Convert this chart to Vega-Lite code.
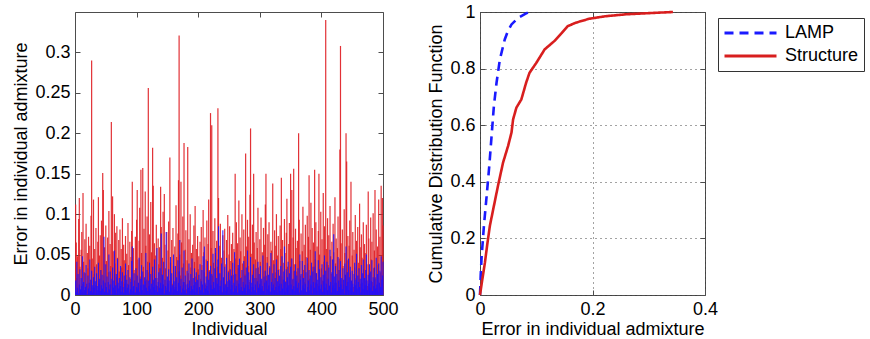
{
"$schema": "https://vega.github.io/schema/vega-lite/v6.json",
"padding": {"left": 12, "top": 2, "right": 0, "bottom": 0},
"config": {
 "font": "Liberation Sans",
 "view": {"stroke": "#4d4d4d", "strokeWidth": 1},
 "axis": {"domain": false, "grid": false, "tickColor": "#4d4d4d", "tickSize": -5, "labelFontSize": 18, "labelColor": "#000", "titleFontSize": 18, "titleFontWeight": "normal", "titleColor": "#000", "labelPadding": 10, "labelFlush": false, "labelOverlap": false},
 "axisX": {"titlePadding": 2},
 "axisY": {"titlePadding": 4},
 "legend": {"labelFontSize": 18, "labelColor": "#000", "strokeColor": "#333", "fillColor": "#fff", "padding": 5, "symbolSize": 2704, "symbolStrokeWidth": 3, "rowPadding": 3, "clipHeight": 20, "labelOffset": 7}
},
"datasets": {
"err": [
{"i":1,"s":0.112,"l":0.018},{"i":2,"s":0.065,"l":0.004},{"i":3,"s":0.021,"l":0.041},{"i":4,"s":0.048,"l":0.009},{"i":5,"s":0.008,"l":0.026},{"i":6,"s":0.094,"l":0.002},{"i":7,"s":0.12,"l":0.013},{"i":8,"s":0.035,"l":0.032},{"i":9,"s":0.003,"l":0.007},{"i":10,"s":0.056,"l":0.021},
{"i":11,"s":0.078,"l":0.011},{"i":12,"s":0.014,"l":0.048},{"i":13,"s":0.126,"l":0.003},{"i":14,"s":0.041,"l":0.016},{"i":15,"s":0.006,"l":0.028},{"i":16,"s":0.069,"l":0.006},{"i":17,"s":0.027,"l":0.01},{"i":18,"s":0.088,"l":0.037},{"i":19,"s":0.011,"l":0.014},{"i":20,"s":0.052,"l":0.001},
{"i":21,"s":0.033,"l":0.024},{"i":22,"s":0.072,"l":0.008},{"i":23,"s":0.004,"l":0.015},{"i":24,"s":0.061,"l":0.044},{"i":25,"s":0.019,"l":0.005},{"i":26,"s":0.098,"l":0.019},{"i":27,"s":0.29,"l":0.03},{"i":28,"s":0.045,"l":0.012},{"i":29,"s":0.009,"l":0.003},{"i":30,"s":0.118,"l":0.022},
{"i":31,"s":0.026,"l":0.009},{"i":32,"s":0.057,"l":0.035},{"i":33,"s":0.012,"l":0.017},{"i":34,"s":0.083,"l":0.002},{"i":35,"s":0.038,"l":0.027},{"i":36,"s":0.002,"l":0.011},{"i":37,"s":0.066,"l":0.006},{"i":38,"s":0.121,"l":0.04},{"i":39,"s":0.017,"l":0.014},{"i":40,"s":0.049,"l":0.02},
{"i":41,"s":0.074,"l":0.005},{"i":42,"s":0.031,"l":0.031},{"i":43,"s":0.092,"l":0.012},{"i":44,"s":0.007,"l":0.025},{"i":45,"s":0.151,"l":0.008},{"i":46,"s":0.13,"l":0.018},{"i":47,"s":0.024,"l":0.072},{"i":48,"s":0.059,"l":0.004},{"i":49,"s":0.015,"l":0.015},{"i":50,"s":0.086,"l":0.038},
{"i":51,"s":0.042,"l":0.01},{"i":52,"s":0.005,"l":0.023},{"i":53,"s":0.071,"l":0.003},{"i":54,"s":0.028,"l":0.016},{"i":55,"s":0.104,"l":0.05},{"i":56,"s":0.013,"l":0.007},{"i":57,"s":0.063,"l":0.029},{"i":58,"s":0.036,"l":0.013},{"i":59,"s":0.214,"l":0.001},{"i":60,"s":0.018,"l":0.02},
{"i":61,"s":0.122,"l":0.034},{"i":62,"s":0.054,"l":0.009},{"i":63,"s":0.009,"l":0.018},{"i":64,"s":0.1,"l":0.055},{"i":65,"s":0.039,"l":0.006},{"i":66,"s":0.077,"l":0.012},{"i":67,"s":0.022,"l":0.026},{"i":68,"s":0.085,"l":0.002},{"i":69,"s":0.046,"l":0.045},{"i":70,"s":0.001,"l":0.015},
{"i":71,"s":0.068,"l":0.008},{"i":72,"s":0.029,"l":0.021},{"i":73,"s":0.081,"l":0.011},{"i":74,"s":0.011,"l":0.036},{"i":75,"s":0.057,"l":0.004},{"i":76,"s":0.034,"l":0.017},{"i":77,"s":0.095,"l":0.028},{"i":78,"s":0.016,"l":0.01},{"i":79,"s":0.062,"l":0.003},{"i":80,"s":0.043,"l":0.024},
{"i":81,"s":0.007,"l":0.014},{"i":82,"s":0.073,"l":0.039},{"i":83,"s":0.025,"l":0.006},{"i":84,"s":0.051,"l":0.019},{"i":85,"s":0.014,"l":0.009},{"i":86,"s":0.089,"l":0.031},{"i":87,"s":0.037,"l":0.013},{"i":88,"s":0.004,"l":0.002},{"i":89,"s":0.066,"l":0.022},{"i":90,"s":0.02,"l":0.007},
{"i":91,"s":0.047,"l":0.016},{"i":92,"s":0.079,"l":0.042},{"i":93,"s":0.14,"l":0.06},{"i":94,"s":0.01,"l":0.005},{"i":95,"s":0.058,"l":0.011},{"i":96,"s":0.031,"l":0.027},{"i":97,"s":0.003,"l":0.018},{"i":98,"s":0.072,"l":0.003},{"i":99,"s":0.026,"l":0.033},{"i":100,"s":0.093,"l":0.01},
{"i":101,"s":0.13,"l":0.024},{"i":102,"s":0.044,"l":0.008},{"i":103,"s":0.015,"l":0.015},{"i":104,"s":0.067,"l":0.046},{"i":105,"s":0.108,"l":0.004},{"i":106,"s":0.023,"l":0.02},{"i":107,"s":0.155,"l":0.012},{"i":108,"s":0.052,"l":0.037},{"i":109,"s":0.006,"l":0.006},{"i":110,"s":0.157,"l":0.029},
{"i":111,"s":0.035,"l":0.013},{"i":112,"s":0.082,"l":0.002},{"i":113,"s":0.012,"l":0.022},{"i":114,"s":0.128,"l":0.017},{"i":115,"s":0.061,"l":0.052},{"i":116,"s":0.019,"l":0.009},{"i":117,"s":0.097,"l":0.031},{"i":118,"s":0.041,"l":0.005},{"i":119,"s":0.256,"l":0.018},{"i":120,"s":0.028,"l":0.011},
{"i":121,"s":0.075,"l":0.04},{"i":122,"s":0.008,"l":0.007},{"i":123,"s":0.115,"l":0.026},{"i":124,"s":0.053,"l":0.014},{"i":125,"s":0.03,"l":0.003},{"i":126,"s":0.182,"l":0.035},{"i":127,"s":0.135,"l":0.019},{"i":128,"s":0.017,"l":0.01},{"i":129,"s":0.064,"l":0.044},{"i":130,"s":0.002,"l":0.006},
{"i":131,"s":0.049,"l":0.021},{"i":132,"s":0.087,"l":0.012},{"i":133,"s":0.021,"l":0.058},{"i":134,"s":0.011,"l":0.004},{"i":135,"s":0.07,"l":0.016},{"i":136,"s":0.038,"l":0.028},{"i":137,"s":0.059,"l":0.009},{"i":138,"s":0.005,"l":0.033},{"i":139,"s":0.134,"l":0.015},{"i":140,"s":0.084,"l":0.076},
{"i":141,"s":0.026,"l":0.008},{"i":142,"s":0.046,"l":0.025},{"i":143,"s":0.103,"l":0.013},{"i":144,"s":0.013,"l":0.041},{"i":145,"s":0.125,"l":0.002},{"i":146,"s":0.062,"l":0.019},{"i":147,"s":0.033,"l":0.011},{"i":148,"s":0.009,"l":0.078},{"i":149,"s":0.078,"l":0.006},{"i":150,"s":0.018,"l":0.023},
{"i":151,"s":0.055,"l":0.014},{"i":152,"s":0.091,"l":0.032},{"i":153,"s":0.004,"l":0.004},{"i":154,"s":0.17,"l":0.018},{"i":155,"s":0.04,"l":0.047},{"i":156,"s":0.022,"l":0.009},{"i":157,"s":0.068,"l":0.027},{"i":158,"s":0.014,"l":0.012},{"i":159,"s":0.083,"l":0.003},{"i":160,"s":0.036,"l":0.05},
{"i":161,"s":0.01,"l":0.017},{"i":162,"s":0.06,"l":0.007},{"i":163,"s":0.029,"l":0.036},{"i":164,"s":0.111,"l":0.01},{"i":165,"s":0.047,"l":0.022},{"i":166,"s":0.003,"l":0.005},{"i":167,"s":0.076,"l":0.043},{"i":168,"s":0.142,"l":0.015},{"i":169,"s":0.321,"l":0.029},{"i":170,"s":0.05,"l":0.068},
{"i":171,"s":0.024,"l":0.011},{"i":172,"s":0.14,"l":0.02},{"i":173,"s":0.065,"l":0.003},{"i":174,"s":0.012,"l":0.034},{"i":175,"s":0.097,"l":0.008},{"i":176,"s":0.039,"l":0.016},{"i":177,"s":0.188,"l":0.055},{"i":178,"s":0.016,"l":0.006},{"i":179,"s":0.056,"l":0.024},{"i":180,"s":0.08,"l":0.013},
{"i":181,"s":0.007,"l":0.002},{"i":182,"s":0.043,"l":0.03},{"i":183,"s":0.183,"l":0.014},{"i":184,"s":0.027,"l":0.009},{"i":185,"s":0.069,"l":0.039},{"i":186,"s":0.011,"l":0.018},{"i":187,"s":0.1,"l":0.005},{"i":188,"s":0.034,"l":0.026},{"i":189,"s":0.052,"l":0.011},{"i":190,"s":0.019,"l":0.045},
{"i":191,"s":0.062,"l":0.007},{"i":192,"s":0.005,"l":0.021},{"i":193,"s":0.086,"l":0.012},{"i":194,"s":0.041,"l":0.033},{"i":195,"s":0.11,"l":0.004},{"i":196,"s":0.023,"l":0.016},{"i":197,"s":0.057,"l":0.028},{"i":198,"s":0.015,"l":0.009},{"i":199,"s":0.073,"l":0.019},{"i":200,"s":0.032,"l":0.001},
{"i":201,"s":0.048,"l":0.025},{"i":202,"s":0.009,"l":0.01},{"i":203,"s":0.066,"l":0.038},{"i":204,"s":0.02,"l":0.006},{"i":205,"s":0.084,"l":0.017},{"i":206,"s":0.037,"l":0.031},{"i":207,"s":0.002,"l":0.013},{"i":208,"s":0.105,"l":0.048},{"i":209,"s":0.053,"l":0.003},{"i":210,"s":0.028,"l":0.06},
{"i":211,"s":0.071,"l":0.015},{"i":212,"s":0.013,"l":0.008},{"i":213,"s":0.044,"l":0.023},{"i":214,"s":0.092,"l":0.011},{"i":215,"s":0.006,"l":0.042},{"i":216,"s":0.063,"l":0.005},{"i":217,"s":0.118,"l":0.019},{"i":218,"s":0.031,"l":0.029},{"i":219,"s":0.015,"l":0.002},{"i":220,"s":0.225,"l":0.036},
{"i":221,"s":0.058,"l":0.012},{"i":222,"s":0.21,"l":0.026},{"i":223,"s":0.024,"l":0.007},{"i":224,"s":0.079,"l":0.051},{"i":225,"s":0.04,"l":0.016},{"i":226,"s":0.008,"l":0.009},{"i":227,"s":0.095,"l":0.033},{"i":228,"s":0.052,"l":0.058},{"i":229,"s":0.018,"l":0.004},{"i":230,"s":0.067,"l":0.021},
{"i":231,"s":0.035,"l":0.014},{"i":232,"s":0.231,"l":0.044},{"i":233,"s":0.12,"l":0.085},{"i":234,"s":0.011,"l":0.006},{"i":235,"s":0.061,"l":0.027},{"i":236,"s":0.088,"l":0.011},{"i":237,"s":0.027,"l":0.018},{"i":238,"s":0.046,"l":0.039},{"i":239,"s":0.004,"l":0.003},{"i":240,"s":0.074,"l":0.08},
{"i":241,"s":0.021,"l":0.022},{"i":242,"s":0.055,"l":0.009},{"i":243,"s":0.082,"l":0.035},{"i":244,"s":0.014,"l":0.013},{"i":245,"s":0.038,"l":0.005},{"i":246,"s":0.068,"l":0.046},{"i":247,"s":0.007,"l":0.017},{"i":248,"s":0.099,"l":0.01},{"i":249,"s":0.03,"l":0.028},{"i":250,"s":0.05,"l":0.002},
{"i":251,"s":0.085,"l":0.019},{"i":252,"s":0.017,"l":0.032},{"i":253,"s":0.042,"l":0.007},{"i":254,"s":0.063,"l":0.024},{"i":255,"s":0.003,"l":0.012},{"i":256,"s":0.077,"l":0.04},{"i":257,"s":0.025,"l":0.004},{"i":258,"s":0.057,"l":0.015},{"i":259,"s":0.012,"l":0.053},{"i":260,"s":0.15,"l":0.008},
{"i":261,"s":0.045,"l":0.026},{"i":262,"s":0.09,"l":0.011},{"i":263,"s":0.019,"l":0.018},{"i":264,"s":0.064,"l":0.003},{"i":265,"s":0.033,"l":0.037},{"i":266,"s":0.117,"l":0.014},{"i":267,"s":0.008,"l":0.045},{"i":268,"s":0.071,"l":0.006},{"i":269,"s":0.054,"l":0.021},{"i":270,"s":0.022,"l":0.01},
{"i":271,"s":0.1,"l":0.031},{"i":272,"s":0.039,"l":0.005},{"i":273,"s":0.013,"l":0.016},{"i":274,"s":0.081,"l":0.042},{"i":275,"s":0.048,"l":0.009},{"i":276,"s":0.026,"l":0.024},{"i":277,"s":0.175,"l":0.013},{"i":278,"s":0.06,"l":0.034},{"i":279,"s":0.005,"l":0.002},{"i":280,"s":0.093,"l":0.055},
{"i":281,"s":0.036,"l":0.012},{"i":282,"s":0.072,"l":0.028},{"i":283,"s":0.016,"l":0.007},{"i":284,"s":0.124,"l":0.019},{"i":285,"s":0.206,"l":0.047},{"i":286,"s":0.051,"l":0.004},{"i":287,"s":0.01,"l":0.015},{"i":288,"s":0.087,"l":0.025},{"i":289,"s":0.029,"l":0.01},{"i":290,"s":0.15,"l":0.038},
{"i":291,"s":0.065,"l":0.006},{"i":292,"s":0.002,"l":0.021},{"i":293,"s":0.044,"l":0.013},{"i":294,"s":0.078,"l":0.033},{"i":295,"s":0.021,"l":0.003},{"i":296,"s":0.058,"l":0.017},{"i":297,"s":0.108,"l":0.041},{"i":298,"s":0.034,"l":0.009},{"i":299,"s":0.012,"l":0.026},{"i":300,"s":0.069,"l":0.014},
{"i":301,"s":0.041,"l":0.036},{"i":302,"s":0.096,"l":0.008},{"i":303,"s":0.018,"l":0.02},{"i":304,"s":0.053,"l":0.011},{"i":305,"s":0.007,"l":0.049},{"i":306,"s":0.083,"l":0.005},{"i":307,"s":0.03,"l":0.023},{"i":308,"s":0.062,"l":0.015},{"i":309,"s":0.112,"l":0.03},{"i":310,"s":0.15,"l":0.002},
{"i":311,"s":0.024,"l":0.018},{"i":312,"s":0.047,"l":0.04},{"i":313,"s":0.075,"l":0.007},{"i":314,"s":0.011,"l":0.025},{"i":315,"s":0.09,"l":0.012},{"i":316,"s":0.036,"l":0.034},{"i":317,"s":0.004,"l":0.004},{"i":318,"s":0.066,"l":0.052},{"i":319,"s":0.055,"l":0.016},{"i":320,"s":0.02,"l":0.009},
{"i":321,"s":0.138,"l":0.027},{"i":322,"s":0.043,"l":0.013},{"i":323,"s":0.015,"l":0.038},{"i":324,"s":0.08,"l":0.006},{"i":325,"s":0.028,"l":0.021},{"i":326,"s":0.061,"l":0.01},{"i":327,"s":0.1,"l":0.044},{"i":328,"s":0.009,"l":0.003},{"i":329,"s":0.049,"l":0.017},{"i":330,"s":0.073,"l":0.031},
{"i":331,"s":0.032,"l":0.011},{"i":332,"s":0.014,"l":0.024},{"i":333,"s":0.086,"l":0.005},{"i":334,"s":0.057,"l":0.036},{"i":335,"s":0.145,"l":0.014},{"i":336,"s":0.023,"l":0.048},{"i":337,"s":0.068,"l":0.008},{"i":338,"s":0.001,"l":0.019},{"i":339,"s":0.04,"l":0.029},{"i":340,"s":0.094,"l":0.06},
{"i":341,"s":0.052,"l":0.004},{"i":342,"s":0.017,"l":0.016},{"i":343,"s":0.077,"l":0.032},{"i":344,"s":0.119,"l":0.009},{"i":345,"s":0.035,"l":0.022},{"i":346,"s":0.006,"l":0.041},{"i":347,"s":0.063,"l":0.012},{"i":348,"s":0.089,"l":0.027},{"i":349,"s":0.026,"l":0.002},{"i":350,"s":0.15,"l":0.035},
{"i":351,"s":0.045,"l":0.013},{"i":352,"s":0.13,"l":0.045},{"i":353,"s":0.019,"l":0.007},{"i":354,"s":0.071,"l":0.02},{"i":355,"s":0.156,"l":0.011},{"i":356,"s":0.038,"l":0.03},{"i":357,"s":0.01,"l":0.005},{"i":358,"s":0.082,"l":0.038},{"i":359,"s":0.058,"l":0.017},{"i":360,"s":0.029,"l":0.024},
{"i":361,"s":0.067,"l":0.009},{"i":362,"s":0.013,"l":0.033},{"i":363,"s":0.2,"l":0.015},{"i":364,"s":0.093,"l":0.003},{"i":365,"s":0.042,"l":0.05},{"i":366,"s":0.024,"l":0.019},{"i":367,"s":0.076,"l":0.026},{"i":368,"s":0.005,"l":0.006},{"i":369,"s":0.054,"l":0.042},{"i":370,"s":0.109,"l":0.012},
{"i":371,"s":0.031,"l":0.021},{"i":372,"s":0.062,"l":0.008},{"i":373,"s":0.016,"l":0.037},{"i":374,"s":0.087,"l":0.014},{"i":375,"s":0.047,"l":0.028},{"i":376,"s":0.003,"l":0.004},{"i":377,"s":0.098,"l":0.046},{"i":378,"s":0.039,"l":0.01},{"i":379,"s":0.072,"l":0.018},{"i":380,"s":0.148,"l":0.031},
{"i":381,"s":0.02,"l":0.006},{"i":382,"s":0.056,"l":0.024},{"i":383,"s":0.114,"l":0.013},{"i":384,"s":0.011,"l":0.04},{"i":385,"s":0.083,"l":0.002},{"i":386,"s":0.035,"l":0.029},{"i":387,"s":0.065,"l":0.016},{"i":388,"s":0.007,"l":0.035},{"i":389,"s":0.155,"l":0.009},{"i":390,"s":0.044,"l":0.054},
{"i":391,"s":0.09,"l":0.015},{"i":392,"s":0.027,"l":0.027},{"i":393,"s":0.06,"l":0.005},{"i":394,"s":0.014,"l":0.019},{"i":395,"s":0.079,"l":0.043},{"i":396,"s":0.15,"l":0.011},{"i":397,"s":0.05,"l":0.032},{"i":398,"s":0.008,"l":0.007},{"i":399,"s":0.103,"l":0.022},{"i":400,"s":0.033,"l":0.013},
{"i":401,"s":0.069,"l":0.038},{"i":402,"s":0.018,"l":0.004},{"i":403,"s":0.126,"l":0.025},{"i":404,"s":0.041,"l":0.017},{"i":405,"s":0.085,"l":0.049},{"i":406,"s":0.004,"l":0.009},{"i":407,"s":0.34,"l":0.03},{"i":408,"s":0.057,"l":0.014},{"i":409,"s":0.022,"l":0.041},{"i":410,"s":0.095,"l":0.006},
{"i":411,"s":0.037,"l":0.02},{"i":412,"s":0.074,"l":0.034},{"i":413,"s":0.012,"l":0.011},{"i":414,"s":0.11,"l":0.056},{"i":415,"s":0.048,"l":0.016},{"i":416,"s":0.026,"l":0.003},{"i":417,"s":0.066,"l":0.028},{"i":418,"s":0.009,"l":0.044},{"i":419,"s":0.088,"l":0.012},{"i":420,"s":0.053,"l":0.075},
{"i":421,"s":0.015,"l":0.023},{"i":422,"s":0.121,"l":0.008},{"i":423,"s":0.039,"l":0.036},{"i":424,"s":0.07,"l":0.015},{"i":425,"s":0.002,"l":0.026},{"i":426,"s":0.058,"l":0.005},{"i":427,"s":0.097,"l":0.047},{"i":428,"s":0.031,"l":0.018},{"i":429,"s":0.045,"l":0.01},{"i":430,"s":0.18,"l":0.031},
{"i":431,"s":0.308,"l":0.042},{"i":432,"s":0.064,"l":0.013},{"i":433,"s":0.019,"l":0.021},{"i":434,"s":0.081,"l":0.007},{"i":435,"s":0.036,"l":0.033},{"i":436,"s":0.013,"l":0.019},{"i":437,"s":0.106,"l":0.002},{"i":438,"s":0.052,"l":0.039},{"i":439,"s":0.025,"l":0.025},{"i":440,"s":0.2,"l":0.06},
{"i":441,"s":0.165,"l":0.011},{"i":442,"s":0.043,"l":0.028},{"i":443,"s":0.073,"l":0.016},{"i":444,"s":0.006,"l":0.045},{"i":445,"s":0.061,"l":0.006},{"i":446,"s":0.092,"l":0.022},{"i":447,"s":0.028,"l":0.035},{"i":448,"s":0.14,"l":0.009},{"i":449,"s":0.017,"l":0.018},{"i":450,"s":0.049,"l":0.03},
{"i":451,"s":0.078,"l":0.014},{"i":452,"s":0.01,"l":0.004},{"i":453,"s":0.056,"l":0.026},{"i":454,"s":0.034,"l":0.04},{"i":455,"s":0.099,"l":0.012},{"i":456,"s":0.021,"l":0.019},{"i":457,"s":0.067,"l":0.051},{"i":458,"s":0.003,"l":0.008},{"i":459,"s":0.084,"l":0.024},{"i":460,"s":0.04,"l":0.016},
{"i":461,"s":0.024,"l":0.033},{"i":462,"s":0.113,"l":0.01},{"i":463,"s":0.059,"l":0.02},{"i":464,"s":0.014,"l":0.003},{"i":465,"s":0.075,"l":0.037},{"i":466,"s":0.046,"l":0.015},{"i":467,"s":0.008,"l":0.027},{"i":468,"s":0.09,"l":0.044},{"i":469,"s":0.032,"l":0.007},{"i":470,"s":0.063,"l":0.021},
{"i":471,"s":0.052,"l":0.012},{"i":472,"s":0.018,"l":0.031},{"i":473,"s":0.087,"l":0.05},{"i":474,"s":0.038,"l":0.018},{"i":475,"s":0.011,"l":0.006},{"i":476,"s":0.128,"l":0.025},{"i":477,"s":0.07,"l":0.014},{"i":478,"s":0.027,"l":0.038},{"i":479,"s":0.005,"l":0.009},{"i":480,"s":0.096,"l":0.029},
{"i":481,"s":0.044,"l":0.017},{"i":482,"s":0.066,"l":0.043},{"i":483,"s":0.016,"l":0.005},{"i":484,"s":0.101,"l":0.022},{"i":485,"s":0.033,"l":0.011},{"i":486,"s":0.055,"l":0.034},{"i":487,"s":0.13,"l":0.02},{"i":488,"s":0.022,"l":0.008},{"i":489,"s":0.081,"l":0.046},{"i":490,"s":0.009,"l":0.013},
{"i":491,"s":0.06,"l":0.026},{"i":492,"s":0.037,"l":0.004},{"i":493,"s":0.118,"l":0.039},{"i":494,"s":0.015,"l":0.015},{"i":495,"s":0.072,"l":0.03},{"i":496,"s":0.028,"l":0.01},{"i":497,"s":0.135,"l":0.048},{"i":498,"s":0.048,"l":0.019},{"i":499,"s":0.12,"l":0.024},{"i":500,"s":0.086,"l":0.041}
],
"cdf": [
{"m":"LAMP","e":0,"p":0},{"m":"LAMP","e":0.0008,"p":0.04},{"m":"LAMP","e":0.0012,"p":0.068},{"m":"LAMP","e":0.003,"p":0.139},{"m":"LAMP","e":0.007,"p":0.245},{"m":"LAMP","e":0.0118,"p":0.35},{"m":"LAMP","e":0.0165,"p":0.456},{"m":"LAMP","e":0.0206,"p":0.562},{"m":"LAMP","e":0.0247,"p":0.668},{"m":"LAMP","e":0.0294,"p":0.75},{"m":"LAMP","e":0.0353,"p":0.832},{"m":"LAMP","e":0.044,"p":0.903},{"m":"LAMP","e":0.05,"p":0.935},{"m":"LAMP","e":0.056,"p":0.956},{"m":"LAMP","e":0.0676,"p":0.979},{"m":"LAMP","e":0.082,"p":0.995},{"m":"LAMP","e":0.087,"p":1},
{"m":"Structure","e":0,"p":0},{"m":"Structure","e":0.0045,"p":0.06},{"m":"Structure","e":0.0088,"p":0.115},{"m":"Structure","e":0.013,"p":0.18},{"m":"Structure","e":0.0176,"p":0.245},{"m":"Structure","e":0.0235,"p":0.303},{"m":"Structure","e":0.032,"p":0.386},{"m":"Structure","e":0.041,"p":0.468},{"m":"Structure","e":0.05,"p":0.527},{"m":"Structure","e":0.056,"p":0.574},{"m":"Structure","e":0.0588,"p":0.62},{"m":"Structure","e":0.0647,"p":0.662},{"m":"Structure","e":0.0735,"p":0.691},{"m":"Structure","e":0.082,"p":0.75},{"m":"Structure","e":0.088,"p":0.785},{"m":"Structure","e":0.1,"p":0.82},{"m":"Structure","e":0.115,"p":0.868},{"m":"Structure","e":0.132,"p":0.897},{"m":"Structure","e":0.145,"p":0.925},{"m":"Structure","e":0.156,"p":0.95},{"m":"Structure","e":0.17,"p":0.962},{"m":"Structure","e":0.194,"p":0.976},{"m":"Structure","e":0.223,"p":0.985},{"m":"Structure","e":0.26,"p":0.992},{"m":"Structure","e":0.3,"p":0.996},{"m":"Structure","e":0.343,"p":1}
]
},
"bounds": "flush",
"spacing": 97,
"hconcat": [
{
 "width": 308, "height": 283,
 "data": {"name": "err"},
 "resolve": {"axis": {"x": "independent", "y": "independent"}},
 "layer": [
  {"mark": {"type": "rule", "color": "#df1f25", "strokeWidth": 1.2, "opacity": 0.92},
   "encoding": {
    "x": {"field": "i", "type": "quantitative", "scale": {"domain": [0, 500], "nice": false}, "axis": {"values": [0,100,200,300,400,500], "title": "Individual"}},
    "y": {"field": "s", "type": "quantitative", "scale": {"domain": [0, 0.35], "nice": false}, "axis": {"values": [0,0.05,0.1,0.15,0.2,0.25,0.3], "format": "~g", "title": "Error in individual admixture"}},
    "y2": {"datum": 0}
   }},
  {"mark": {"type": "rule", "color": "#1e0fff", "strokeWidth": 1.1, "opacity": 0.9},
   "encoding": {
    "x": {"field": "i", "type": "quantitative", "scale": {"domain": [0, 500], "nice": false}, "axis": {"orient": "top", "values": [0,100,200,300,400,500], "labels": false, "title": null}},
    "y": {"field": "l", "type": "quantitative", "scale": {"domain": [0, 0.35], "nice": false}, "axis": {"orient": "right", "values": [0,0.05,0.1,0.15,0.2,0.25,0.3], "labels": false, "title": null}},
    "y2": {"datum": 0}
   }}
 ]
},
{
 "width": 225, "height": 283,
 "data": {"name": "cdf"},
 "resolve": {"axis": {"x": "independent", "y": "independent"}},
 "layer": [
  {"mark": {"type": "line", "strokeWidth": 2.6},
   "encoding": {
    "x": {"field": "e", "type": "quantitative", "scale": {"domain": [0, 0.4], "nice": false}, "axis": {"values": [0,0.2,0.4], "format": "~g", "grid": true, "gridDash": [1,4], "gridColor": "#333", "gridOpacity": 0.9, "title": "Error in individual admixture"}},
    "y": {"field": "p", "type": "quantitative", "scale": {"domain": [0, 1], "nice": false}, "axis": {"values": [0,0.2,0.4,0.6,0.8,1], "format": "~g", "grid": true, "gridDash": [1,4], "gridColor": "#333", "gridOpacity": 0.9, "title": "Cumulative Distribution Function"}},
    "color": {"field": "m", "type": "nominal", "scale": {"domain": ["LAMP","Structure"], "range": ["#1a1aff","#d81e1e"]}, "legend": {"title": null, "orient": "none", "legendX": 643, "legendY": 6}},
    "strokeDash": {"field": "m", "type": "nominal", "scale": {"domain": ["LAMP","Structure"], "range": [[9,6],[1,0]]}, "legend": {"title": null, "orient": "none", "legendX": 643, "legendY": 6}}
   }},
  {"mark": {"type": "line", "opacity": 0},
   "encoding": {
    "x": {"field": "e", "type": "quantitative", "scale": {"domain": [0, 0.4], "nice": false}, "axis": {"orient": "top", "values": [0,0.2,0.4], "labels": false, "title": null}},
    "y": {"field": "p", "type": "quantitative", "scale": {"domain": [0, 1], "nice": false}, "axis": {"orient": "right", "values": [0,0.2,0.4,0.6,0.8,1], "labels": false, "title": null}},
    "detail": {"field": "m"}
   }}
 ]
}
]
}
